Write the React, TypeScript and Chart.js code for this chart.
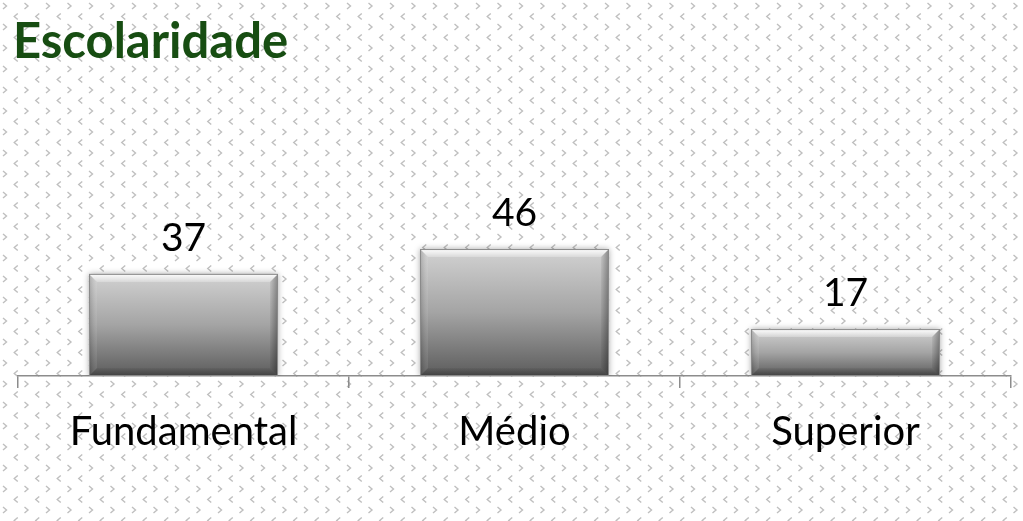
import React, { useEffect, useRef } from "react";
import { Chart, registerables } from "chart.js";

Chart.register(...registerables);

const TITLE = "Escolaridade";
const categories = ["Fundamental", "Médio", "Superior"];
const values = [37, 46, 17];
const yRange = [0, 100];

function makePattern(ctx: CanvasRenderingContext2D) {
  const c = document.createElement("canvas");
  c.width = 43;
  c.height = 42;
  const g = c.getContext("2d")!;
  g.fillStyle = "#ffffff";
  g.fillRect(0, 0, 43, 42);
  g.strokeStyle = "#bfbfbf";
  g.lineWidth = 1.4;
  const gt = (x: number, y: number) => {
    g.beginPath();
    g.moveTo(x - 2, y - 3);
    g.lineTo(x + 1.5, y);
    g.lineTo(x - 2, y + 3);
    g.stroke();
  };
  const lt = (x: number, y: number) => {
    g.beginPath();
    g.moveTo(x + 2, y - 3);
    g.lineTo(x - 1.5, y);
    g.lineTo(x + 2, y + 3);
    g.stroke();
  };
  for (let i = 0; i < 2; i++) {
    for (let j = 0; j < 2; j++) {
      gt(5 + i * 21.5, 6 + j * 21);
      lt(5 + 10.75 + i * 21.5, 6 + 10.5 + j * 21);
    }
  }
  return ctx.createPattern(c, "repeat");
}

const backgroundPlugin = {
  id: "bgPattern",
  beforeDraw(chart: any) {
    const ctx = chart.ctx as CanvasRenderingContext2D;
    ctx.save();
    ctx.fillStyle = "#ffffff";
    ctx.fillRect(0, 0, chart.width, chart.height);
    const p = makePattern(ctx);
    if (p) {
      ctx.fillStyle = p;
      ctx.fillRect(0, 0, chart.width, chart.height);
    }
    ctx.restore();
  },
};

const titlePlugin = {
  id: "leftTitle",
  afterDraw(chart: any) {
    const ctx = chart.ctx as CanvasRenderingContext2D;
    ctx.save();
    ctx.font = "bold 49px Lato";
    ctx.fillStyle = "#174d12";
    ctx.textBaseline = "alphabetic";
    ctx.textAlign = "left";
    ctx.fillText(TITLE, 13, 58);
    ctx.restore();
  },
};

const barFxPlugin = {
  id: "barFx",
  beforeDatasetsDraw(chart: any) {
    const ctx = chart.ctx as CanvasRenderingContext2D;
    ctx.save();
    ctx.shadowColor = "rgba(0,0,0,0.35)";
    ctx.shadowBlur = 6;
    ctx.shadowOffsetX = 0;
    ctx.shadowOffsetY = 0;
  },
  afterDatasetsDraw(chart: any) {
    const ctx = chart.ctx as CanvasRenderingContext2D;
    ctx.restore();
    const meta = chart.getDatasetMeta(0);
    meta.data.forEach((bar: any, i: number) => {
      const { x, y, base, width } = bar.getProps(["x", "y", "base", "width"], true);
      const l = x - width / 2;
      const r = x + width / 2;
      const t = y;
      const b = base;
      const bv = 8;
      ctx.save();
      // top bevel
      let gr = ctx.createLinearGradient(0, t, 0, t + bv);
      gr.addColorStop(0, "rgba(255,255,255,0.95)");
      gr.addColorStop(1, "rgba(255,255,255,0.25)");
      ctx.fillStyle = gr;
      ctx.beginPath();
      ctx.moveTo(l, t);
      ctx.lineTo(r, t);
      ctx.lineTo(r - bv, t + bv);
      ctx.lineTo(l + bv, t + bv);
      ctx.closePath();
      ctx.fill();
      // left bevel
      gr = ctx.createLinearGradient(l, 0, l + bv, 0);
      gr.addColorStop(0, "rgba(0,0,0,0.18)");
      gr.addColorStop(1, "rgba(255,255,255,0.08)");
      ctx.fillStyle = gr;
      ctx.beginPath();
      ctx.moveTo(l, t);
      ctx.lineTo(l + bv, t + bv);
      ctx.lineTo(l + bv, b - bv);
      ctx.lineTo(l, b);
      ctx.closePath();
      ctx.fill();
      // right bevel
      gr = ctx.createLinearGradient(r, 0, r - bv, 0);
      gr.addColorStop(0, "rgba(0,0,0,0.35)");
      gr.addColorStop(1, "rgba(0,0,0,0.05)");
      ctx.fillStyle = gr;
      ctx.beginPath();
      ctx.moveTo(r, t);
      ctx.lineTo(r - bv, t + bv);
      ctx.lineTo(r - bv, b - bv);
      ctx.lineTo(r, b);
      ctx.closePath();
      ctx.fill();
      // bottom bevel
      gr = ctx.createLinearGradient(0, b, 0, b - bv);
      gr.addColorStop(0, "rgba(0,0,0,0.3)");
      gr.addColorStop(1, "rgba(0,0,0,0.05)");
      ctx.fillStyle = gr;
      ctx.beginPath();
      ctx.moveTo(l, b);
      ctx.lineTo(l + bv, b - bv);
      ctx.lineTo(r - bv, b - bv);
      ctx.lineTo(r, b);
      ctx.closePath();
      ctx.fill();
      // outline
      ctx.strokeStyle = "#8a8a8a";
      ctx.lineWidth = 1;
      ctx.strokeRect(l + 0.5, t + 0.5, width - 1, b - t - 1);
      ctx.restore();

      // value label
      ctx.save();
      ctx.font = "39px Lato";
      ctx.fillStyle = "#000000";
      ctx.textAlign = "center";
      ctx.textBaseline = "alphabetic";
      ctx.fillText(String(values[i]), x, t - 23);
      ctx.restore();
    });
  },
};

export default function App() {
  const ref = useRef<HTMLCanvasElement | null>(null);

  useEffect(() => {
    if (!ref.current) return;
    const chart = new Chart(ref.current, {
      type: "bar",
      data: {
        labels: categories,
        datasets: [
          {
            data: values,
            barPercentage: 0.571,
            categoryPercentage: 1,
            borderWidth: 0,
            backgroundColor: (c: any) => {
              const ch = c.chart;
              const ys = ch.scales && ch.scales.y;
              if (!ch.chartArea || !ys || typeof c.raw !== "number") return "#a0a0a0";
              const top = ys.getPixelForValue(c.raw);
              const bottom = ys.getPixelForValue(0);
              if (!isFinite(top) || !isFinite(bottom) || top === bottom) return "#a0a0a0";
              const g = ch.ctx.createLinearGradient(0, top, 0, bottom);
              g.addColorStop(0, "#d2d2d2");
              g.addColorStop(0.5, "#a4a4a4");
              g.addColorStop(1, "#5c5c5c");
              return g;
            },
          },
        ],
      },
      options: {
        animation: false,
        responsive: true,
        maintainAspectRatio: false,
        layout: { padding: { top: 100, left: 18, right: 12, bottom: 0 } },
        plugins: {
          legend: { display: false },
          tooltip: { enabled: false },
          title: { display: false },
        },
        scales: {
          y: {
            display: false,
            min: yRange[0],
            max: yRange[1],
          },
          x: {
            offset: true,
            grid: {
              display: true,
              offset: true,
              drawOnChartArea: false,
              drawTicks: true,
              tickLength: 12,
              color: "#8c8c8c",
              lineWidth: 1.5,
            },
            border: { display: true, color: "#8c8c8c", width: 1.5 },
            ticks: {
              color: "#000000",
              font: { family: "Lato", size: 40 },
              padding: 20,
              maxRotation: 0,
              autoSkip: false,
            },
            afterFit: (s: any) => {
              s.height = 145;
            },
          },
        },
      },
      plugins: [backgroundPlugin, barFxPlugin, titlePlugin],
    });
    return () => chart.destroy();
  }, []);

  return (
    <div style={{ position: "fixed", left: 0, top: 0, width: 1023, height: 521 }}>
      <canvas ref={ref} />
    </div>
  );
}
